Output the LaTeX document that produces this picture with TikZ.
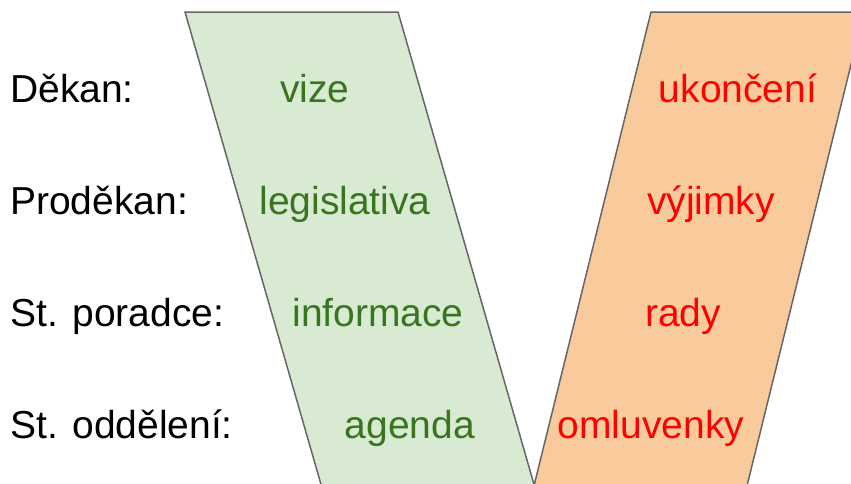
\documentclass[tikz,border=0pt]{standalone}
\usepackage{fontspec}
\setmainfont{Liberation Sans}
\definecolor{gfill}{HTML}{D9EAD3}
\definecolor{ofill}{HTML}{F9CB9C}
\definecolor{edge}{HTML}{666666}
\definecolor{gtext}{HTML}{38761D}
\definecolor{rtext}{HTML}{FF0000}
\begin{document}
\begin{tikzpicture}[x=1pt,y=-1pt,
  lbl/.style={anchor=base west,inner sep=0pt,font=\fontsize{39}{47}\selectfont},
  gword/.style={anchor=base,inner sep=0pt,text=gtext,font=\fontsize{39}{47}\selectfont},
  rword/.style={anchor=base,inner sep=0pt,text=rtext,font=\fontsize{39}{47}\selectfont},
  band/.style={draw=edge,line width=1.5pt,line join=miter}]
\useasboundingbox (0,0) rectangle (851,483);
\begin{scope}
\clip (0,0) rectangle (851,483);
\path[band,fill=gfill] (185,12) -- (398,12) -- (567.3,600) -- (354.3,600) -- cycle;
\path[band,fill=ofill] (651,12) -- (864,12) -- (718.8,600) -- (505.8,600) -- cycle;
\end{scope}
\node[lbl] (l1) at (10,102) {Děkan:};
\node[lbl] (l2) at (10,214) {Proděkan:};
\node[lbl] (l3) at (10,326) {St. poradce:};
\node[lbl] (l4) at (10,438) {St. oddělení:};
\node[gword] (g1) at (315,102) {vize};
\node[gword] (g2) at (345,214) {legislativa};
\node[gword] (g3) at (378,326) {informace};
\node[gword] (g4) at (410,438) {agenda};
\node[rword] (r1) at (738,102) {ukončení};
\node[rword] (r2) at (711,214) {výjimky};
\node[rword] (r3) at (683,326) {rady};
\node[rword] (r4) at (651,438) {omluvenky};
\end{tikzpicture}
\end{document}
